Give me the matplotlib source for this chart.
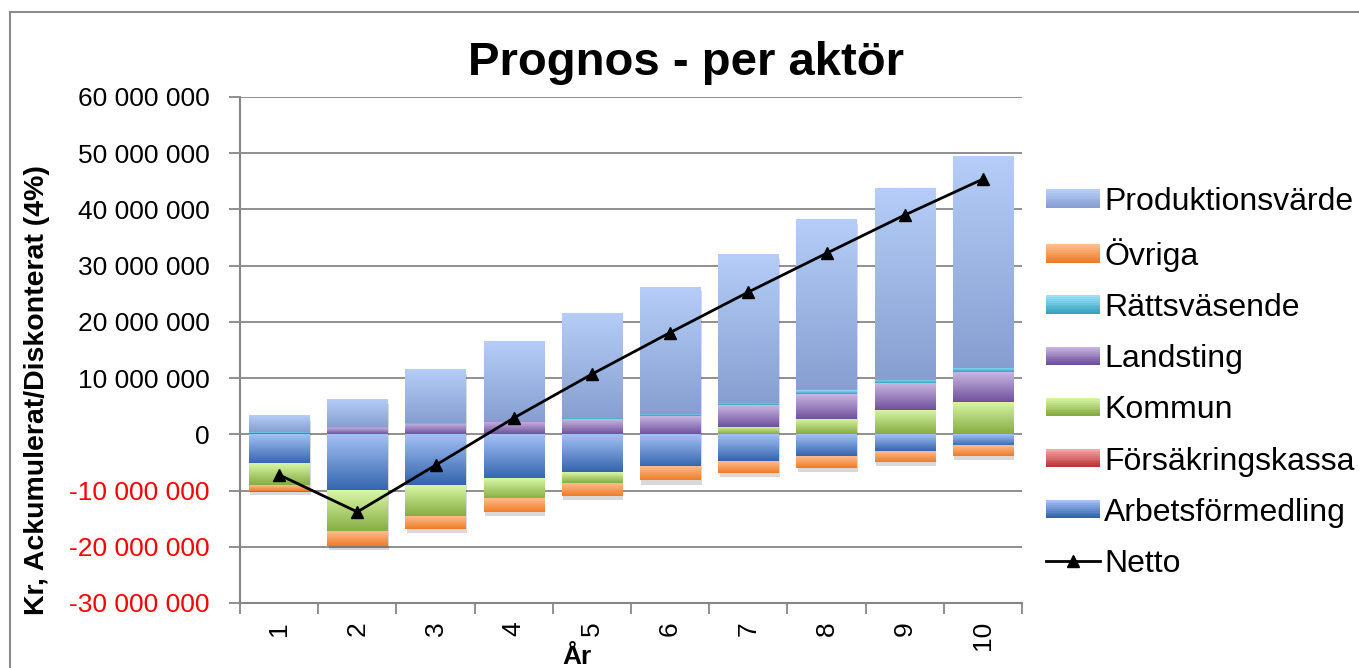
import matplotlib
matplotlib.use('Agg')
import matplotlib.pyplot as plt
import matplotlib.patheffects as pe
import numpy as np
from matplotlib.colors import LinearSegmentedColormap, to_rgb
from matplotlib.patches import Rectangle
from matplotlib.lines import Line2D
from matplotlib.legend_handler import HandlerBase
from matplotlib.ticker import FixedLocator, FuncFormatter

plt.rcParams['font.family'] = ['Liberation Sans', 'DejaVu Sans']

# data (miljoner kr)
years = [1, 2, 3, 4, 5, 6, 7, 8, 9, 10]
arbetsformedling = [-5.2, -10.0, -9.0, -7.9, -6.75, -5.8, -4.8, -3.9, -2.9, -2.0]
forsakringskassa = [0, 0, 0, 0, 0, 0, 0, 0, 0, 0]
kommun = [-3.8, -7.4, -5.5, -3.6, -1.95, 0.0, 1.3, 2.8, 4.3, 5.8]
landsting = [0.3, 1.2, 1.8, 2.2, 2.65, 3.2, 3.9, 4.35, 4.75, 5.2]
rattsvasende = [0.05, 0.1, 0.15, 0.2, 0.25, 0.45, 0.45, 0.65, 0.6, 0.75]
ovriga = [-1.0, -2.5, -2.3, -2.35, -2.2, -2.4, -2.1, -2.0, -1.95, -1.9]
produktionsvarde = [2.85, 4.9, 9.45, 14.1, 18.6, 22.55, 26.35, 30.3, 34.15, 37.55]
netto = [-7.2, -13.8, -5.5, 2.9, 10.7, 18.1, 25.3, 32.2, 39.0, 45.4]

# stacking order (bottom first) with light/dark gradient colours
series = [
    ('Arbetsförmedling', arbetsformedling, '#a3c1f5', '#3464ad'),
    ('Försäkringskassa', forsakringskassa, '#f6a8a8', '#bb3436'),
    ('Kommun', kommun, '#d9f7a6', '#86ac41'),
    ('Landsting', landsting, '#c8b6e2', '#6f519c'),
    ('Rättsväsende', rattsvasende, '#97e0f7', '#36a2bf'),
    ('Övriga', ovriga, '#fdbd8e', '#ef7c27'),
    ('Produktionsvärde', produktionsvarde, '#b5cdf7', '#869fd0'),
]

grey = '#878787'
fig = plt.figure(figsize=(13.59, 6.68), dpi=100)
ax = fig.add_axes([240/1359, 1-603/668, 782/1359, 506/668])
ax.set_axisbelow(True)

x = np.array(years)
pos = np.zeros(len(x))
neg = np.zeros(len(x))
shadow = [pe.SimplePatchShadow(offset=(1, -3), shadow_rgbFace='k', alpha=0.15), pe.Normal()]
for name, vals, c1, c2 in series:
    v = np.array(vals) * 1e6
    bottom = np.where(v >= 0, pos, neg)
    cmap = LinearSegmentedColormap.from_list(name, [c1, c2])
    bars = ax.bar(x, v, bottom=bottom, width=0.77, color=cmap(0.5),
                  linewidth=0, zorder=2)
    grad = np.linspace(0, 1, 128).reshape(-1, 1)
    for b in bars:
        h = b.get_height()
        if h == 0:
            continue
        b.set_path_effects(shadow)
        y0, y1 = sorted([b.get_y(), b.get_y() + h])
        ax.imshow(grad, cmap=cmap, aspect='auto', zorder=3,
                  extent=[b.get_x(), b.get_x() + b.get_width(), y0, y1])
    pos = pos + np.where(v > 0, v, 0)
    neg = neg + np.where(v < 0, v, 0)

ax.plot(x, np.array(netto) * 1e6, color='black', lw=2, marker='^',
        markersize=9, zorder=5)

ax.set_xlim(0.5, 10.5)
ax.set_ylim(-30e6, 60e6)
ax.yaxis.set_major_locator(FixedLocator(np.arange(-30e6, 60e6 + 1, 10e6)))
ax.yaxis.set_major_formatter(FuncFormatter(
    lambda v, p: '0' if v == 0 else f'{v:,.0f}'.replace(',', ' ')))
ax.grid(axis='y', color=grey, lw=1.3)
ax.tick_params(axis='y', length=8, color=grey, width=1.3, labelsize=19, pad=14)
for lab, val in zip(ax.get_yticklabels(), ax.get_yticks()):
    if val < 0:
        lab.set_color('#ff0000')

ax.set_xticks(x)
ax.set_xticklabels([str(y) for y in years], rotation=90)
ax.set_xticks(np.arange(0.5, 11, 1), minor=True)
ax.tick_params(axis='x', which='major', length=0, labelsize=19, pad=13)
ax.tick_params(axis='x', which='minor', length=8, color=grey, width=1.3)
for s in ['top', 'right']:
    ax.spines[s].set_visible(False)
for s in ['left', 'bottom']:
    ax.spines[s].set_color(grey)
    ax.spines[s].set_linewidth(1.5)

fig.text(686/1359, 1-75/668, 'Prognos - per aktör', fontsize=34, fontweight='bold',
         ha='center', va='baseline')
fig.text(37/1359, 1-390/668, 'Kr, Ackumulerat/Diskonterat (4%)', fontsize=20.5,
         fontweight='bold', rotation=90, ha='center', va='center')
fig.text(577/1359, 1-645/668, 'År', fontsize=19, fontweight='bold',
         ha='center', va='top')

fig.add_artist(Rectangle((10/1359, -0.1), 1.2, 1.1 - 12/668, transform=fig.transFigure,
                         fill=False, edgecolor='#8c8c8c', lw=1.5))


class GradHandler(HandlerBase):
    def __init__(self, c1, c2):
        super().__init__()
        self.c1, self.c2 = np.array(to_rgb(c1)), np.array(to_rgb(c2))

    def create_artists(self, legend, orig, xd, yd, w, h, fs, trans):
        n = 10
        arts = []
        for i in range(n):
            t = i / (n - 1)
            col = self.c1 * (1 - t) + self.c2 * t
            arts.append(Rectangle((-xd, -yd + h - (i + 1) * h / n), w, h / n + 0.3,
                                  facecolor=col, lw=0, transform=trans))
        return arts


handles, labels, hmap = [], [], {}
for name, vals, c1, c2 in reversed(series):
    r = Rectangle((0, 0), 1, 1)
    handles.append(r)
    labels.append(name)
    hmap[r] = GradHandler(c1, c2)
handles.append(Line2D([], [], color='black', lw=2, marker='^', markersize=8))
labels.append('Netto')
fig.legend(handles, labels, handler_map=hmap, loc='center left',
           bbox_to_anchor=(1046/1359, 1-383/668), bbox_transform=fig.transFigure,
           frameon=False, borderpad=0, borderaxespad=0, handlelength=1.7,
           handleheight=0.5, handletextpad=0.12, labelspacing=0.66, fontsize=23)

fig.savefig('out.png', dpi=100)
